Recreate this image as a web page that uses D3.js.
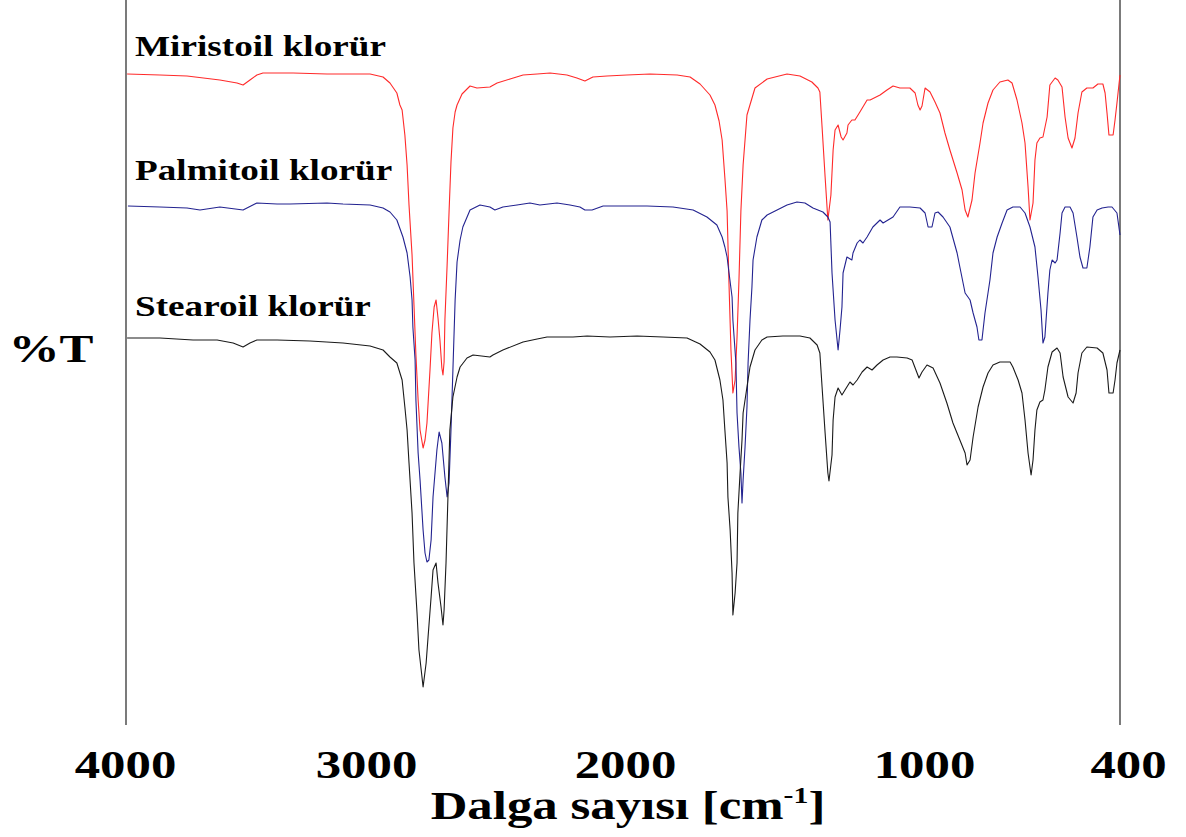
<!DOCTYPE html>
<html>
<head>
<meta charset="utf-8">
<script src="https://cdn.jsdelivr.net/npm/d3@7"></script>
<style>
  html, body { margin: 0; padding: 0; background: #fff; }
  svg { display: block; }
</style>
</head>
<body>
<svg id="chart" width="1186" height="837"></svg>
<script>
// FTIR spectra of three acyl chlorides (transmittance, stacked with offsets)
const seriesNames = ["Miristoil klorür", "Palmitoil klorür", "Stearoil klorür"];
const seriesOffsets = [50, 25, 0];
const tickValues = [4000, 3000, 2000, 1000, 400];

// Miristoil klorür: wavenumber (cm-1) and %T
const redWn = [3996,3877,3779,3660,3598,3576,3551,3526,3504,3395,
  3272,3116,3069,3044,3019,3008,3000,2990,2982,2975,
  2964,2957,2950,2942,2935,2924,2917,2910,2899,2892,
  2884,2877,2870,2863,2856,2852,2848,2845,2837,2830,
  2823,2816,2808,2801,2783,2754,2729,2682,2656,2609,
  2562,2511,2464,2403,2367,2338,2309,2258,2186,2102,
  2004,1957,1921,1885,1867,1852,1841,1831,1823,1816,
  1809,1802,1794,1787,1780,1773,1765,1751,1722,1678,
  1606,1559,1516,1494,1487,1479,1468,1458,1447,1439,
  1432,1421,1410,1403,1389,1385,1371,1360,1342,1316,
  1305,1269,1244,1222,1197,1161,1142,1132,1124,1117,
  1106,1088,1070,1052,1034,1016,990,972,961,951,
  936,925,907,896,878,860,835,806,791,773,
  755,744,733,726,715,708,701,690,679,664,
  654,635,625,610,599,588,574,563,552,538,
  520,498,480,462,454,447,440,425,418,411,
  404,400];
const redT = [80.2,80.0,79.8,79.0,78.4,78.0,79.0,80.0,80.4,80.4,
  80.2,80.2,79.6,78.4,76.4,74.0,73.0,68.0,62.0,54.0,
  44.0,34.0,24.0,15.0,9.0,5.4,7.0,10.4,21.0,28.4,
  33.6,35.0,31.4,27.0,21.4,20.0,22.6,31.0,42.0,52.6,
  62.6,69.4,72.6,74.0,76.2,77.8,77.4,77.6,78.4,79.2,
  80.0,80.2,80.4,80.0,79.4,78.8,79.6,79.8,80.0,80.2,
  80.0,79.6,78.2,76.0,74.0,70.8,67.0,59.4,52.8,38.0,
  25.0,16.4,19.0,27.6,39.0,52.8,62.0,72.0,77.4,79.2,
  80.2,79.8,78.6,77.4,76.6,69.6,59.6,51.0,56.0,65.0,
  69.0,70.0,67.6,67.0,68.4,70.0,71.0,71.0,72.6,75.0,
  75.0,76.0,77.0,77.8,77.4,77.4,76.4,74.0,73.0,73.8,
  77.4,76.6,74.6,72.4,68.4,65.0,60.4,57.0,53.0,51.6,
  55.0,60.4,66.4,70.4,74.4,77.0,78.6,79.0,78.4,75.0,
  70.4,66.4,57.6,51.0,54.4,63.0,66.4,67.4,67.6,71.6,
  78.0,79.4,79.0,77.6,71.6,67.4,65.4,67.4,72.4,76.6,
  77.4,77.4,78.2,78.2,76.4,72.4,68.0,68.0,71.0,74.4,
  78.0,80.0];

// Palmitoil klorür
const blueWn = [3993,3877,3779,3732,3660,3576,3526,3453,3406,3272,
  3214,3116,3069,3044,3019,2997,2982,2971,2964,2961,
  2953,2950,2942,2935,2924,2917,2910,2903,2895,2888,
  2874,2866,2856,2845,2837,2830,2823,2816,2808,2801,
  2790,2780,2754,2718,2682,2664,2635,2584,2537,2501,
  2439,2392,2356,2338,2312,2272,2186,2113,2019,1946,
  1896,1860,1841,1831,1823,1816,1805,1802,1791,1787,
  1780,1773,1769,1765,1758,1751,1747,1740,1733,1729,
  1715,1697,1678,1642,1606,1570,1541,1512,1476,1458,
  1450,1443,1432,1421,1414,1407,1403,1389,1371,1367,
  1352,1342,1331,1316,1295,1269,1258,1222,1197,1161,
  1124,1106,1095,1081,1070,1059,1041,1016,990,980,
  961,943,932,918,911,900,889,871,860,845,
  827,809,788,762,744,726,708,697,686,679,
  672,661,654,646,635,628,617,610,599,581,
  570,556,545,534,520,509,498,483,465,443,
  429,411,400];
const blueT = [78.8,78.6,78.4,78.0,78.6,78.0,79.4,79.2,79.2,79.4,
  79.2,79.0,78.4,77.6,76.0,72.6,69.4,64.6,60.0,54.6,
  48.0,40.0,29.4,24.0,14.0,9.4,7.6,8.0,12.0,20.6,
  30.0,33.6,31.4,24.6,20.6,23.4,34.0,46.0,60.0,67.6,
  72.0,74.6,78.0,79.0,78.6,78.0,78.6,79.0,79.4,79.0,
  79.4,79.0,78.6,78.0,78.0,78.8,78.8,78.8,78.6,78.0,
  76.6,75.0,72.6,70.6,68.6,65.4,60.6,56.0,47.4,37.4,
  30.6,25.4,19.4,24.0,30.6,38.6,47.4,56.0,62.6,68.0,
  72.6,76.0,77.0,78.0,79.0,79.6,79.4,78.4,77.6,76.6,
  75.6,65.4,56.0,50.0,54.0,58.6,65.4,68.6,68.0,69.4,
  71.4,72.0,71.4,72.6,74.6,76.0,75.4,76.6,78.6,78.6,
  78.4,77.4,74.6,74.6,77.4,77.6,76.6,74.6,69.4,66.6,
  61.4,60.0,57.4,54.6,52.0,52.0,57.4,64.0,69.4,72.6,
  75.4,78.0,78.6,78.6,77.4,74.6,70.6,64.6,58.0,51.4,
  52.6,61.4,66.0,68.0,67.4,68.0,73.4,77.4,78.6,78.6,
  77.4,72.6,68.6,66.4,66.4,70.6,76.6,78.0,78.4,78.6,
  78.6,77.4,73.0];

// Stearoil klorür
const blackWn = [3996,3877,3757,3670,3612,3576,3551,3526,3453,3334,
  3214,3116,3069,3044,3019,3000,2990,2982,2975,2964,
  2957,2946,2939,2928,2924,2913,2906,2895,2888,2877,
  2870,2859,2852,2848,2841,2834,2827,2816,2801,2790,
  2765,2743,2682,2671,2635,2562,2511,2475,2381,2330,
  2247,2149,2055,1968,1921,1885,1867,1849,1838,1831,
  1823,1820,1812,1805,1802,1794,1787,1784,1776,1769,
  1765,1751,1740,1722,1697,1678,1621,1559,1523,1497,
  1487,1479,1468,1458,1454,1443,1439,1432,1421,1407,
  1396,1378,1367,1352,1334,1316,1298,1280,1258,1233,
  1208,1171,1153,1135,1128,1117,1099,1077,1052,1027,
  1005,980,961,954,943,932,914,896,878,860,
  835,798,788,769,755,744,733,722,715,708,
  701,690,679,672,661,646,628,617,606,588,
  570,559,552,538,520,483,462,447,440,425,
  418,411,400];
const blackT = [77.4,77.4,77.0,77.0,76.4,75.6,76.4,77.0,77.0,76.8,
  76.4,75.8,75.0,73.6,72.4,69.0,63.6,59.0,52.4,42.4,
  32.4,22.4,15.0,9.6,7.6,12.4,17.6,25.6,31.0,32.4,
  28.4,23.6,20.0,23.0,32.4,45.6,59.0,65.6,69.6,71.6,
  73.4,74.0,73.6,74.0,75.0,76.6,77.2,77.6,77.6,77.8,
  77.6,77.8,77.6,77.4,76.2,74.6,73.0,69.0,65.0,59.0,
  52.4,45.6,39.0,30.4,22.0,26.4,32.4,42.4,50.4,57.0,
  62.4,67.6,71.6,75.0,77.0,77.6,77.8,77.8,77.4,76.0,
  74.4,67.6,58.4,50.4,48.8,54.0,61.0,65.6,67.4,66.0,
  67.0,68.6,68.0,69.0,70.6,71.6,71.0,72.0,73.0,73.6,
  73.6,73.4,73.0,70.4,69.4,70.6,72.0,71.4,68.4,64.4,
  60.4,57.0,54.4,52.0,53.0,57.6,63.6,67.6,70.4,72.0,
  72.6,72.6,71.6,69.0,66.4,61.0,54.4,50.0,53.0,59.0,
  63.0,64.6,65.0,67.0,71.6,74.6,75.4,74.4,69.6,65.6,
  64.4,66.4,70.4,74.4,75.6,75.4,74.4,71.0,66.4,66.4,
  69.0,72.4,75.0];

const seriesColors = ["#ff2a2a", "#232390", "#1a1a1a"];
const spectra = [
  d3.zip(redWn, redT),
  d3.zip(blueWn, blueT),
  d3.zip(blackWn, blackT)
];

const W = 1186, H = 837;
const serif = "'Liberation Serif', 'Times New Roman', serif";
const stretch = "scale(1.24,1)";

const svg = d3.select("#chart");
svg.append("rect").attr("width", W).attr("height", H).attr("fill", "#fff");

// Wavenumber axis runs right-to-left
const x = d3.scaleLinear().domain([4000, 400]).range([126, 1120]);
const y = d3.scaleLinear().domain([0, 140]).range([725, 25]);
// where the tick labels sit under the frame
const tickX = d3.scaleLinear().domain(tickValues).range([125, 366, 625, 924, 1128]);

// Frame: left and right vertical rules
svg.selectAll("line.frame")
  .data([4000, 400])
  .join("line")
  .attr("class", "frame")
  .attr("x1", d => x(d)).attr("x2", d => x(d))
  .attr("y1", 0).attr("y2", y(0))
  .attr("stroke", "#222").attr("stroke-width", 1.2);

// Spectra
spectra.forEach((pts, i) => {
  const line = d3.line()
    .x(d => x(d[0]))
    .y(d => y(d[1] + seriesOffsets[i]));
  svg.append("path")
    .datum(pts)
    .attr("d", line)
    .attr("fill", "none")
    .attr("stroke", seriesColors[i])
    .attr("stroke-width", 1.1)
    .attr("stroke-linejoin", "round");
});

// Spectrum names
const labelBase = [56, 180, 316];
seriesNames.forEach((name, i) => {
  svg.append("text")
    .attr("transform", `translate(135,${labelBase[i]}) ${stretch}`)
    .attr("font-family", serif)
    .attr("font-weight", "bold")
    .attr("font-size", 30)
    .attr("fill", "#000")
    .text(name);
});

// Bottom tick labels
const axis = d3.axisBottom(tickX)
  .tickValues(tickValues)
  .tickSize(0)
  .tickPadding(0)
  .tickFormat(d3.format("d"));
const gx = svg.append("g").attr("transform", "translate(0,778)").call(axis);
gx.select(".domain").remove();
gx.selectAll(".tick text")
  .attr("y", 0).attr("dy", 0)
  .attr("transform", stretch)
  .attr("font-family", serif)
  .attr("font-weight", "bold")
  .attr("font-size", 41)
  .attr("fill", "#000");

// Axis titles
const xTitle = svg.append("text")
  .attr("transform", `translate(628,819) ${stretch}`)
  .attr("text-anchor", "middle")
  .attr("font-family", serif)
  .attr("font-weight", "bold")
  .attr("font-size", 41)
  .attr("fill", "#000");
xTitle.append("tspan").text("Dalga sayısı [cm");
xTitle.append("tspan").attr("font-size", 24).attr("dy", -16).text("-1");
xTitle.append("tspan").attr("dy", 16).text("]");

svg.append("text")
  .attr("transform", `translate(51,362) ${stretch}`)
  .attr("text-anchor", "middle")
  .attr("font-family", serif)
  .attr("font-weight", "bold")
  .attr("font-size", 41)
  .attr("fill", "#000")
  .text("%T");
</script>
</body>
</html>
